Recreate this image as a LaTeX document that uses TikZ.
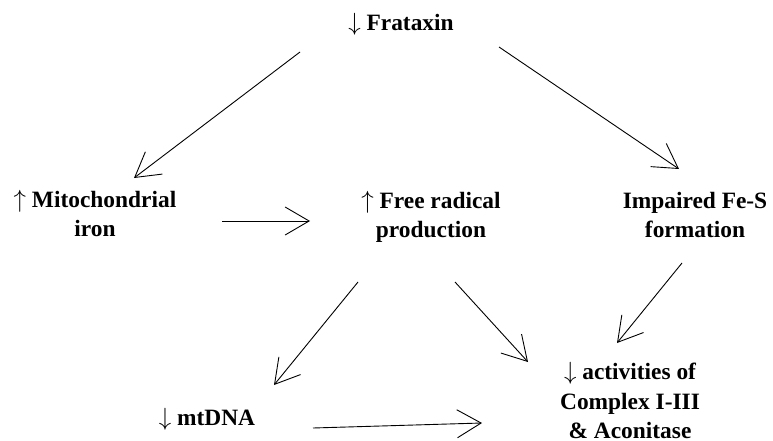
\documentclass[tikz,border=0pt]{standalone}
\usepackage{fontspec}
\setmainfont{Liberation Serif}
\usetikzlibrary{arrows.meta}

\begin{document}
\begin{tikzpicture}[x=1pt, y=-1pt,
    lbl/.style={anchor=base, align=center, inner sep=0pt,
                font=\fontsize{23.4}{29.5}\selectfont\bfseries},
    arr/.style={-{Straight Barb[length=24pt, width=28pt]}, line width=0.9pt}]
    \useasboundingbox (0,0) rectangle (773,441);

    % Labels (base = last line)
    \node[lbl] (frat) at (401,31) {$\downarrow$ Frataxin};
    \node[lbl] (mito) at (95,236.5) {$\uparrow$ Mitochondrial\\iron};
    \node[lbl] (free) at (431,237.5) {$\uparrow$ Free radical\\production};
    \node[lbl] (fes) at (695,237.5) {Impaired Fe-S\\formation};
    \node[lbl] (act) at (630,438.5) {$\downarrow$ activities of\\Complex I-III\\\& Aconitase};
    \node[lbl] (mtdna) at (207,425) {$\downarrow$ mtDNA};

    % Arrows
    \draw[arr] ([shift={(-101,21)}]frat.base) -- ([shift={(39,-58.5)}]mito.base);
    \draw[arr] ([shift={(98,16)}]frat.base) -- ([shift={(-16,-68.5)}]fes.base);
    \draw[arr] ([shift={(127,-15.5)}]mito.base) -- ([shift={(-121,-16.5)}]free.base);
    \draw[arr] ([shift={(-73,44.5)}]free.base) -- ([shift={(67,-40)}]mtdna.base);
    \draw[arr] ([shift={(24,44.5)}]free.base) -- ([shift={(-102,-76.5)}]act.base);
    \draw[arr] ([shift={(-13,25.5)}]fes.base) -- ([shift={(-13,-95.5)}]act.base);
    \draw[arr] ([shift={(106,3)}]mtdna.base) -- ([shift={(-148,-15.5)}]act.base);
\end{tikzpicture}
\end{document}
